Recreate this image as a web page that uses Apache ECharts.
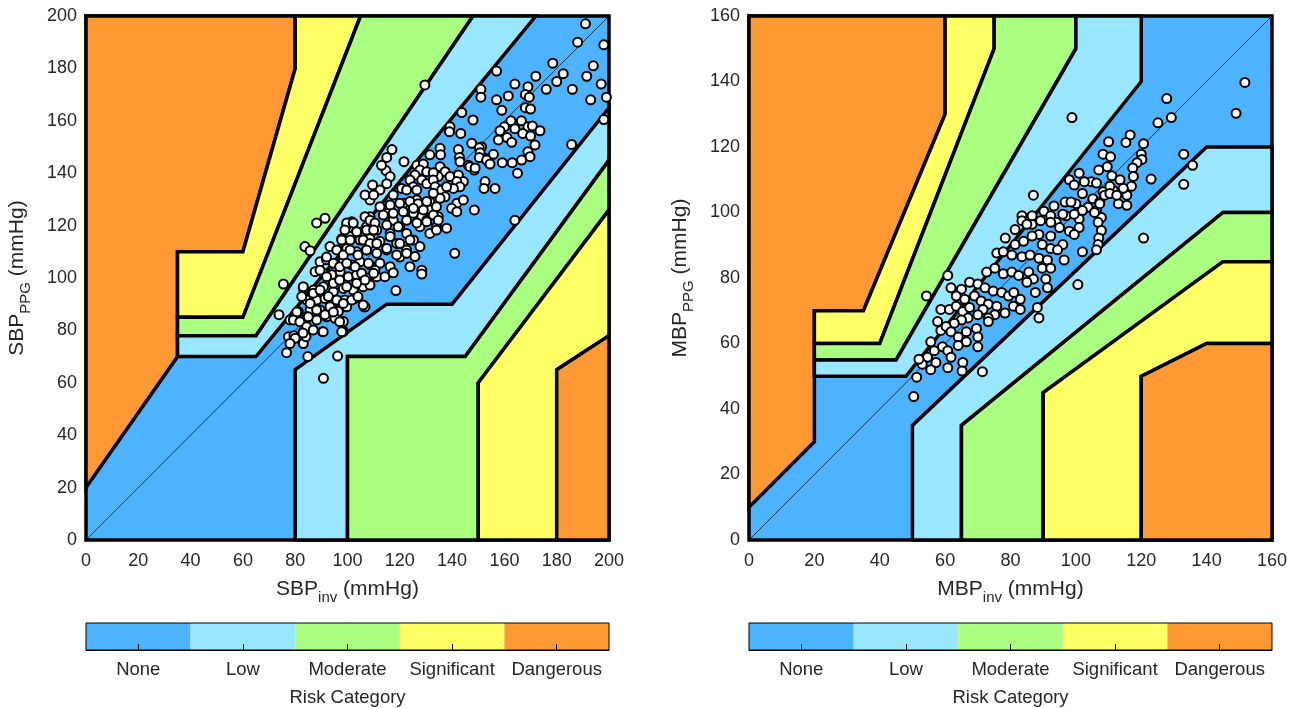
<!DOCTYPE html>
<html>
<head>
<meta charset="utf-8">
<title>Error grid</title>
<script src="https://cdn.jsdelivr.net/npm/echarts@6/dist/echarts.min.js"></script>
<style>
  html, body { margin: 0; padding: 0; background: #fff; }
  #chart { width: 1297px; height: 708px; }
</style>
</head>
<body>
<div id="chart"></div>
<script>
var FONT = '"Liberation Sans", Arial, sans-serif';
var TXT = '#262626';

// risk categories (colour bar)
var riskLabels = ['None', 'Low', 'Moderate', 'Significant', 'Dangerous'];
var riskColors = ['#4db3ff', '#99e6ff', '#aaff80', '#ffff66', '#ff9933'];

// axis ranges
var sbpMax = 200, mbpMax = 160, tickStep = 20;

// SBP error grid zones, vertices in mmHg (0 None, 1 Low, 2 Moderate, 3 Significant, 4 Dangerous)
var sbpFrame     = [[0, 0], [200, 0], [200, 200], [0, 200]];
var sbpDangerUp  = [[0, 20], [35, 70], [35, 110], [60, 110], [80, 180], [80, 200], [0, 200]];
var sbpSignifUp  = [[35, 85], [60, 85], [105, 200], [80, 200], [80, 180], [60, 110], [35, 110]];
var sbpModerUp   = [[35, 78], [65, 78], [148, 200], [105, 200], [60, 85], [35, 85]];
var sbpLowUp     = [[35, 70], [65, 70], [172, 200], [148, 200], [65, 78], [35, 78]];
var sbpLowDown   = [[80, 0], [80, 65], [115, 90], [140, 90], [200, 165], [200, 145], [145, 70], [100, 70], [100, 0]];
var sbpModerDown = [[100, 0], [100, 70], [145, 70], [200, 145], [200, 126], [150, 60], [150, 0]];
var sbpSignifDown= [[150, 0], [150, 60], [200, 126], [200, 78], [180, 65], [180, 0]];
var sbpDangerDown= [[180, 0], [180, 65], [200, 78], [200, 0]];

// MBP error grid zones
var mbpFrame     = [[0, 0], [160, 0], [160, 160], [0, 160]];
var mbpDangerUp  = [[0, 10], [20, 30], [20, 70], [35, 70], [60, 130], [60, 160], [0, 160]];
var mbpSignifUp  = [[20, 60], [40, 60], [75, 150], [75, 160], [60, 160], [60, 130], [35, 70], [20, 70]];
var mbpModerUp   = [[20, 55], [45, 55], [100, 150], [100, 160], [75, 160], [75, 150], [40, 60], [20, 60]];
var mbpLowUp     = [[20, 50], [48, 50], [120, 140], [120, 160], [100, 160], [100, 150], [45, 55], [20, 55]];
var mbpLowDown   = [[50, 0], [50, 35], [140, 120], [160, 120], [160, 100], [145, 100], [65, 35], [65, 0]];
var mbpModerDown = [[65, 0], [65, 35], [145, 100], [160, 100], [160, 85], [145, 85], [90, 45], [90, 0]];
var mbpSignifDown= [[90, 0], [90, 45], [145, 85], [160, 85], [160, 60], [140, 60], [120, 50], [120, 0]];
var mbpDangerDown= [[120, 0], [120, 50], [140, 60], [160, 60], [160, 0]];

// measurements [invasive, PPG] (mmHg)
var sbpPoints = [
  [191,197],[188,190],[198,189],[178.5,182],[194,181],[172,177],[182.5,178],[191.5,177],[180,175],[176,172],
  [186,172],[197,174],[164,174],[169,173],[157,179],[161.5,169.5],[168,170],[169.5,169],[157,168],[151,172],
  [151,169],[193,168],[199,169],[159,164],[168,165],[170,164.5],[198,160.5],[162.5,160],[166.5,160],[160,157.7],
  [158.3,156.2],[164,157],[169,157.7],[170.7,158],[173.6,156.2],[167,155.2],[170,154.2],[157.7,152.7],[161,153.6],[162.8,151.8],
  [171.7,150.8],[185.7,151],[155.8,147.2],[169,148.2],[169.8,146.3],[166.6,145],[163,144],[159.2,144],[151.3,150],[152.6,145.7],
  [154.2,143.8],[151.3,146.3],[165,140],[152.6,136.8],[152.2,134.2],[156.4,134.2],[164,122],
  [129.6,173.7],[143.7,163.2],[148,160.3],[139.2,157.7],[139,155.8],[143.3,155.2],[147.5,151.4],[135.4,149.5],[135.6,147],[142.4,149],
  [142.8,146],[143,144.4],[150.4,149.7],[150.7,147.8],[150.4,146],[153.2,145],[154.5,143.5],[146.2,143],[148.5,141.2],[131.5,147],
  [121.6,144.4],[114.7,141],[116.3,138.7],[126.5,143],[129,143.5],[127.7,141.2],[130.3,140.6],[125.8,139.3],[135.4,142.5],[137.3,140.6],
  [139.2,138.7],[134.7,138.7],[132.8,140.2],[142.4,139.3],[144.3,136.8],[141.8,136.8],[143,134.8],[140.5,134.2],[146.8,142.5],[148.8,142],
  [148.5,126],[141,109.4],[120.7,134.2],[117.5,131.7],[115,136],[112.4,133.6],[123.9,137.4],[125.2,134.8],[122.6,133.6],[128.4,137.4],
  [126.5,133.6],[130.3,136],[132.8,137.4],[133.5,134.8],[136,133.6],[137.9,134.8],[137.3,131],[135.4,130.4],[132.8,132.3],[131.5,129],
  [129,127.2],[126.5,129.8],[123.9,129],[121.3,128.5],[125.2,124.7],[131.5,126],[128.4,123.4],[134.7,123.4],[137.9,119],[141.8,128.5],
  [144.3,129.8],[139.8,126.6],[141.8,125.3],[115,124.7],[117.5,122],[120,119.6],[116.3,117],[122.6,117],[125.2,114.5],[118.8,113.2],
  [122.6,110.7],[127.7,119.6],[115,110.7],[120,108],[130.3,122],[134,119.6],[115,146],[117,149],[113,143],
  [108.6,129.8],[112.4,127.2],[116.3,127.9],[120,128.5],[123.9,129.2],[127,128.3],[130.3,129.2],[134,127.2],[108.6,123.4],[113.7,124],
  [117.5,124.7],[121.3,125.3],[125.2,126.6],[129,126],[132.8,124],[107.3,119.6],[111.2,118.3],[115,120.2],[119.4,119.6],[122.6,122],
  [126.5,121],[130.3,121.5],[134.7,122],[99.7,120.2],[101.6,121.5],[103.5,117.7],[97.8,115],[101,115.8],[104.8,114.5],[108.6,115],
  [112.4,114],[116.3,115.8],[120,113.2],[123.9,114.5],[127.7,112],[131.5,117],[134,118.3],[93.3,112],[96.5,110.7],[99.7,111.3],
  [103.5,110],[107.3,110.7],[111.2,109.4],[115,111.3],[118.8,108.8],[122.6,109.4],[125.8,108.2],[89.5,106.2],[92,107],[95.2,105.6],
  [98.4,106.2],[101.6,105],[104.8,106.2],[108.6,105],[112.4,105.6],[116.3,104.3],[123.9,104.3],[128.4,103],[128.4,101.5],[87.6,102.4],
  [90.8,101.8],[94,101.2],[97.2,102.4],[100.3,100.5],[103.5,101.2],[107.3,100],[111.2,100.5],[114.3,100.5],[117.5,102],[83.1,96],
  [87,95.4],[90.8,96.7],[94.6,94.8],[98.4,96],[102.2,95.4],[106,96.7],[108.6,97.3],[84.4,91.6],[88.2,91.6],[91.4,92.2],
  [95.2,91],[99,91.6],[102.9,92.2],[118.5,95.2],[85.7,87.8],[89.5,87.8],[93.3,89],[96.5,87.2],[99.7,89],[106.4,89],
  [81.2,87.2],[84.4,85.2],[88.2,84],[92,85.2],[95.2,84.6],[98.4,83.4],[79.9,84.6],[78,84],[73.8,86],[75.5,97.7],
  [83.7,112],[85.7,110.4],[88.2,121],[91.4,122.8],[77.4,77.6],[79.5,78],[83.1,79.5],[83.1,75],[84.1,77.6],[76.7,71.5],
  [84.8,70],[90.5,79.5],[98.2,80],[96.2,70.2],[90.8,61.7],
  [109.6,135.5],[106.7,131.7],[110,131.7],[99.7,121],[102.2,121],[99,118.3],[106.7,123.4],[108.6,122],[110.5,121],[107.3,118.3],
  [110,118.3],[97.8,114.5],[101,114.5],[103.5,117.7],[106,114.5],[108.6,113.2],[111.2,113.2],[95.9,110.7],[98.4,108.8],[101,110.7],
  [104,108.8],[107.3,110.7],[92,108],[94.6,105.6],[97,104.3],[99.7,105.6],[102.9,104.3],[105.4,101.8],[108,105.6],[110.5,103],
  [89.5,103],[92,100.5],[94.6,98],[97,99.2],[99.7,96.7],[103.5,98],[106.7,99.2],[110,101.8],[86.9,94.2],[89.5,95.4],
  [92.7,92.9],[95.9,91.6],[98.4,90.3],[101.6,91.6],[104,92.9],[106.7,89],[83.1,96.7],[82.5,92.9],[85.7,90.3],[88.2,87.8],
  [91.4,86],[94.6,87],[97,83.3],[98.4,79.5],[80.6,87],[79.3,84],[81.8,83.3],[85,85.2],[84.4,81.4],[86.9,80.2],
  [83,79],[80,77],[78,75],[90.7,79.5],[97.8,79.5],[106,89.7]
];

var mbpPoints = [
  [151.7,139.7],[149,130.3],[127.8,134.8],[129.2,129],[125.1,127.4],[98.8,129],[116.6,123.7],[115.3,121.4],[120.7,121],[110,121.6],
  [133,117.8],[135.7,114.4],[133,108.6],[123,110.2],[120.7,92.2],[87,105.3],[100.6,78],[71.4,51.4],[50.4,43.8],[51.3,49.7],
  [54.3,74.5],[60.8,80.8],
  [120,117.8],[120.2,116.2],[118.7,115.2],[117.4,113.6],[117.6,111],[117,108],[115.6,105.3],[113,102.7],[115.6,102.2],
  [108.3,117.8],[110.6,117],[109.6,114],[107,113],[111,111.2],[113.5,110],[114.5,107.4],[111.4,106.8],[108.3,106.3],
  [101,112],[98,110],[99.5,108.4],[104.7,109.4],[106.3,109],[102,105.8],[105.2,104.2],[107.3,103.2],[108.8,105.3],[110.4,108],
  [93.3,102],[96.7,103.2],[100,102.7],[103.7,101.6],[106.3,100.6],[107.8,98.5],[107.3,102.7],
  [90.2,100.4],[92.3,99],[94,97],[97,99],[101,98],[106.8,97],[101,95.4],[107.8,94.5],[107,92.2],[106.8,90.2],[106.3,88.6],[102,88],
  [83.5,99],[83.5,97.5],[81.4,94.8],
  [86.6,96.4],[89.2,97.5],[92.3,97],[95,95.4],[98,94.3],[99.5,93.3],[88.7,93.3],[92.3,92.8],[96,90.2],
  [78.4,92.2],[81.4,90.2],[84,91.2],[86.6,92.8],[89.7,90.2],[92.3,89],[94.4,88.6],[96.4,85.5],
  [75.8,87.6],[77.8,88],[80.4,87],[83.5,86.5],[86,87],[88.7,86],[91.3,85.5],[89.7,83],[92.3,83],
  [72.7,81.8],[75.2,83],[77.8,81.3],[80.4,81.8],[82.5,80.8],[85.6,81.8],[87,79.7],[85,78.7],[90.8,79.7],[91.3,77],
  [87.6,75.6],[88.2,71],[88.7,67.8],
  [67.5,78.7],[70,78.2],[72.2,77],[74.7,76],[77.3,75.6],[79.4,74.5],[81,75.6],[83,73.5],[78.3,69.3],[80.9,71.4],[83,70.4],
  [61.8,77],[65,76.6],[63.4,74.5],[66,73.5],[69,74.5],[71,73],[73.2,72],[75.8,71.4],[75.2,68.8],[73.2,67.8],[71.6,70.4],
  [58.7,70.4],[61.3,70.4],[63.4,71.4],[65.4,69.8],[67.5,71],[70,68.8],[67,67.8],[65,67.2],[62.8,66.2],
  [57.7,66.7],[58.7,64],[60.3,65.2],[61.8,63.6],[64,62],[66.5,63.6],[69.6,64.6],[66.5,60.5],[70,62],[70,59],[73.2,66.7],
  [55.6,60.5],[56.7,57.8],[59.2,59],[60.8,57.8],[64,59.4],[61.8,55.8],[65.4,54.2],[60.8,52.6],[57.2,54.2],[54.6,55.8],
  [53,53.7],[52,55.2],[55.6,52],[65.2,51.6],
  [98.5,103.2],[105.7,100],[110.4,105.8],[112.5,105.3],[102.6,109.4],[85,96.4],[86.6,99],[102,100.6],[99.5,99.5],[96,99.5]
];

var sbpZones = [
  { risk: 0, pts: sbpFrame }, { risk: 4, pts: sbpDangerUp }, { risk: 3, pts: sbpSignifUp },
  { risk: 2, pts: sbpModerUp }, { risk: 1, pts: sbpLowUp }, { risk: 1, pts: sbpLowDown },
  { risk: 2, pts: sbpModerDown }, { risk: 3, pts: sbpSignifDown }, { risk: 4, pts: sbpDangerDown }
];
var mbpZones = [
  { risk: 0, pts: mbpFrame }, { risk: 4, pts: mbpDangerUp }, { risk: 3, pts: mbpSignifUp },
  { risk: 2, pts: mbpModerUp }, { risk: 1, pts: mbpLowUp }, { risk: 1, pts: mbpLowDown },
  { risk: 2, pts: mbpModerDown }, { risk: 3, pts: mbpSignifDown }, { risk: 4, pts: mbpDangerDown }
];

function zoneSeries(zones, idx) {
  return {
    type: 'custom', xAxisIndex: idx, yAxisIndex: idx, z: 1, silent: true,
    data: zones.map(function (z, i) { return [i, 0]; }),
    renderItem: function (params, api) {
      var zone = zones[params.dataIndex];
      return {
        type: 'polygon',
        shape: { points: zone.pts.map(function (p) { return api.coord(p); }) },
        style: { fill: riskColors[zone.risk], stroke: '#000', lineWidth: 3.5, lineJoin: 'miter' }
      };
    }
  };
}

function axisName(main, sub) {
  return '{m|' + main + '}{s|' + sub + '}{m| (mmHg)}';
}
var nameRich = {
  m: { fontSize: 21, color: TXT, fontFamily: FONT },
  s: { fontSize: 15, color: TXT, fontFamily: FONT, padding: [16, 0, 0, 0] }
};

function valueAxis(idx, max, name, gap, isY) {
  return {
    gridIndex: idx, type: 'value', min: 0, max: max, interval: tickStep,
    axisLine: { show: false }, axisTick: { show: false }, splitLine: { show: false },
    axisLabel: { fontSize: 18, color: TXT, fontFamily: FONT, margin: isY ? 9 : 12 },
    name: name, nameLocation: 'middle', nameGap: gap,
    nameTextStyle: { rich: nameRich }
  };
}

function barAxis(idx) {
  return {
    gridIndex: idx, type: 'category', data: riskLabels, z: 6,
    axisLine: { show: true, lineStyle: { color: '#000', width: 1 } },
    axisTick: { show: true, inside: true, length: 6, interval: 0, alignWithLabel: true, lineStyle: { color: '#000' } },
    axisLabel: { interval: 0, hideOverlap: false, fontSize: 18.5, color: TXT, fontFamily: FONT, margin: 10 },
    name: 'Risk Category', nameLocation: 'middle', nameGap: 38,
    nameTextStyle: { fontSize: 18.5, color: TXT, fontFamily: FONT }
  };
}

function colorBar(idx) {
  return {
    type: 'bar', xAxisIndex: idx, yAxisIndex: idx, barWidth: '100%', silent: true, z: 1,
    data: riskLabels.map(function (l, i) { return { value: 1, itemStyle: { color: riskColors[i] } }; })
  };
}

function points(data, idx) {
  return {
    type: 'scatter', xAxisIndex: idx, yAxisIndex: idx, data: data, z: 3, symbolSize: 9,
    itemStyle: { color: '#fff', borderColor: '#000', borderWidth: 2, opacity: 1 }
  };
}

function identity(max, idx) {
  return {
    type: 'line', xAxisIndex: idx, yAxisIndex: idx, data: [[0, 0], [max, max]], z: 2,
    symbol: 'none', silent: true, lineStyle: { color: '#000', width: 0.7 }
  };
}

var chart = echarts.init(document.getElementById('chart'));
chart.setOption({
  animation: false,
  backgroundColor: '#fff',
  grid: [
    { left: 86, top: 16, width: 523, height: 524 },
    { left: 749, top: 16, width: 523, height: 524 },
    { left: 86, top: 623, width: 523, height: 27, show: true, z: 5, backgroundColor: 'transparent', borderColor: '#000', borderWidth: 1 },
    { left: 749, top: 623, width: 523, height: 27, show: true, z: 5, backgroundColor: 'transparent', borderColor: '#000', borderWidth: 1 }
  ],
  xAxis: [
    valueAxis(0, sbpMax, axisName('SBP', 'inv'), 34, false),
    valueAxis(1, mbpMax, axisName('MBP', 'inv'), 34, false),
    barAxis(2),
    barAxis(3)
  ],
  yAxis: [
    valueAxis(0, sbpMax, axisName('SBP', 'PPG'), 53, true),
    valueAxis(1, mbpMax, axisName('MBP', 'PPG'), 53, true),
    { gridIndex: 2, type: 'value', min: 0, max: 1, show: false },
    { gridIndex: 3, type: 'value', min: 0, max: 1, show: false }
  ],
  series: [
    zoneSeries(sbpZones, 0), identity(sbpMax, 0), points(sbpPoints, 0),
    zoneSeries(mbpZones, 1), identity(mbpMax, 1), points(mbpPoints, 1),
    colorBar(2), colorBar(3)
  ]
});
</script>
</body>
</html>
